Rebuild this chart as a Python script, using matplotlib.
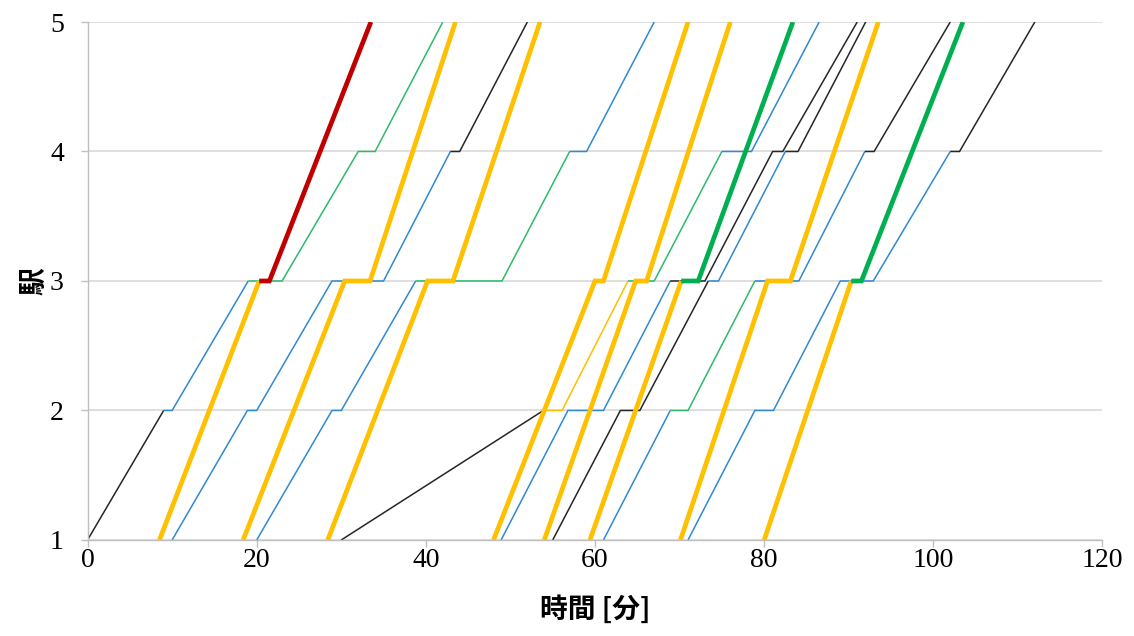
import matplotlib.pyplot as plt

plt.rcParams['font.family'] = ['Liberation Serif', 'Noto Sans CJK JP']

# 停車駅パターン（着・発）
local_stops = [1, 2, 2, 3, 3, 4, 4, 5]
express_stops = [1, 3, 3, 5]

# 各列車の時刻 [分] と区間ごとの種別
# K=普通(黒) B=青 G=緑 y=黄(細) Y=快速(黄) R=特急(赤) H=緑(太)
t1 = [0, 9, 10, 19, 23, 32, 34, 42]
k1 = "KBBGGGG"
t2 = [8.5, 20.3, 21.5, 33.5]
k2 = "YRR"
t3 = [10, 18.9, 20, 28.9, 35, 42.9, 44, 52]
k3 = "BBBBBKK"
t4 = [18.4, 30.4, 33.4, 43.5]
k4 = "YYY"
t5 = [20, 28.9, 30, 38.8, 49, 57, 59, 67]
k5 = "BBBGGBB"
t6 = [28.4, 40.2, 43.2, 53.5]
k6 = "YYY"
t7 = [30, 53.9, 56.1, 63.9, 67, 75, 78.5, 86.5]
k7 = "KyyGGBB"
t8 = [48, 60, 61, 71]
k8 = "YYY"
t9 = [48.9, 56.8, 61, 68.9, 73, 81, 82.2, 91]
k9 = "BBBKKKK"
t10 = [54, 64.8, 66.1, 76]
k10 = "YYY"
t11 = [55, 63, 65.3, 73.4, 74.6, 82.5, 84, 92]
k11 = "KKKBBKK"
t12 = [59.4, 70.2, 72.2, 83.4]
k12 = "YHH"
t13 = [61, 68.9, 71, 78.9, 84.1, 91.9, 93, 102]
k13 = "BGGBBKK"
t14 = [70.1, 80.4, 83.1, 93.5]
k14 = "YYY"
t15 = [71, 78.9, 81.1, 89, 92.9, 102, 103.1, 112]
k15 = "BBBBBKK"
t16 = [80, 90.3, 91.5, 103.5]
k16 = "YHH"

trains = [
    (t1, local_stops, k1), (t2, express_stops, k2),
    (t3, local_stops, k3), (t4, express_stops, k4),
    (t5, local_stops, k5), (t6, express_stops, k6),
    (t7, local_stops, k7), (t8, express_stops, k8),
    (t9, local_stops, k9), (t10, express_stops, k10),
    (t11, local_stops, k11), (t12, express_stops, k12),
    (t13, local_stops, k13), (t14, express_stops, k14),
    (t15, local_stops, k15), (t16, express_stops, k16),
]

styles = {
    'K': ('#262626', 1.1),
    'B': ('#2F89D3', 1.1),
    'G': ('#2DBA6A', 1.1),
    'y': ('#FFC000', 1.1),
    'Y': ('#FFC000', 3.4),
    'R': ('#C00000', 3.4),
    'H': ('#00B050', 3.4),
}

fig = plt.figure(figsize=(11.34, 6.36), dpi=100)
ax = fig.add_axes([0.0772, 0.151, 0.895, 0.8144])

for times, stops, kinds in trains:
    # 同じ種別が続く区間をまとめて描く
    i = 0
    while i < len(kinds):
        j = i
        while j + 1 < len(kinds) and kinds[j + 1] == kinds[i]:
            j += 1
        color, lw = styles[kinds[i]]
        ax.plot(times[i:j + 2], stops[i:j + 2], color=color, lw=lw,
                solid_capstyle='butt', solid_joinstyle='miter',
                zorder=3 if lw > 2 else 2)
        i = j + 1

ax.set_xlim(0, 120)
ax.set_ylim(1, 5)
ax.set_xticks(range(0, 121, 20))
ax.set_yticks(range(1, 6))
ax.grid(axis='y', color='#D9D9D9', lw=1.2, zorder=0)
for side in ['top', 'right']:
    ax.spines[side].set_visible(False)
for side in ['left', 'bottom']:
    ax.spines[side].set_color('#BFBFBF')
    ax.spines[side].set_linewidth(1.0)
ax.tick_params(axis='both', colors='#BFBFBF', labelcolor='black',
               labelsize=20, length=5, width=1.0, direction='out')
ax.tick_params(axis='x', pad=1)
ax.tick_params(axis='y', pad=12)
ax.set_xlabel('時間 [分]', fontsize=20, fontweight='bold',
              family=['Noto Sans CJK JP'], labelpad=16)
ax.set_ylabel('駅', fontsize=20, fontweight='bold',
              family=['Noto Sans CJK JP'], labelpad=1)

fig.savefig('out.png', dpi=100)
